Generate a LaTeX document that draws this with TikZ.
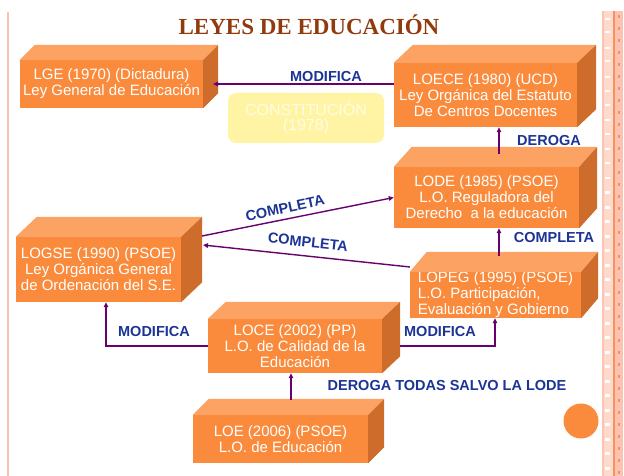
\documentclass[tikz,border=0pt]{standalone}
\usepackage{fontspec}
\setmainfont{Liberation Sans}
\newfontfamily\titlefont{Liberation Serif}
\usetikzlibrary{arrows.meta,calc}
\definecolor{frontc}{RGB}{251,139,60}
\definecolor{topc}{RGB}{252,163,100}
\definecolor{sidec}{RGB}{206,108,44}
\definecolor{arrc}{RGB}{104,0,110}
\definecolor{lblc}{RGB}{28,52,150}
\definecolor{titlec}{RGB}{145,58,14}
\definecolor{pinkc}{RGB}{251,196,178}
\definecolor{pinkl}{RGB}{253,218,204}
\definecolor{bandorange}{RGB}{247,146,96}
\definecolor{yelc}{RGB}{255,244,164}
\definecolor{yeltext}{RGB}{255,252,228}
\newcommand\cubefaces[3]{%
  \fill[topc] (#1.north west) -- ++(#2,-#3) -- ($(#1.north east)+(#2,-#3)$) -- (#1.north east) -- cycle;
  \fill[sidec] (#1.north east) -- ++(#2,-#3) -- ($(#1.south east)+(#2,-#3)$) -- (#1.south east) -- cycle;
}
\begin{document}
\begin{tikzpicture}[x=1pt,y=-1pt,
  front/.style={fill=frontc, text=white, font=\fontsize{15}{16}\selectfont, align=center, inner sep=0pt},
  arr/.style={draw=arrc, line width=1.4pt, -{Triangle[length=5pt,width=4.5pt]}},
  lbl/.style={text=lblc, font=\fontsize{14.5}{16}\selectfont\bfseries, inner sep=0pt}]
\useasboundingbox[fill=white] (0,0) rectangle (624,476);

% page decorations
\draw[pinkc, line width=2.2pt] (8,12) -- (8,476);
\fill[pinkc] (602,11) rectangle (623,476);
\fill[pinkl] (604,11) rectangle (613,476);
\foreach \yy in {18,31,47,60,76,90,104,119,133,148,162,177,191,206,220,235,249,264,278,293,307,322,336,351,365,380,394,409,423,438,452,467}
  \fill[white] (604.5,\yy) rectangle (610,\yy+2.5);
\draw[bandorange, line width=1.3pt] (614,11) -- (614,476);
\foreach \yy in {15,27,39,51,63,75,87,99,111,123,135,147,159,171,183,195,207,219,231,243,255,267,279,291,303,315,327,339,351,363,375,387,399,411,423,435,447,459,471}
  \fill[bandorange] (617.5,\yy) rectangle (619.5,\yy+3);

% title
\node[anchor=base, inner sep=0pt, text=titlec, font=\titlefont\bfseries\fontsize{23}{26}\selectfont] (title) at (309,35) {LEYES DE EDUCACIÓN};

% constitution
\node[fill=yelc, rounded corners=8pt, minimum width=156pt, minimum height=50pt, inner sep=0pt,
      text=yeltext, align=center, font=\fontsize{16}{15}\selectfont] (const) at (306,118) {CONSTITUCIÓN\\(1978)};

% boxes
\node[front, minimum width=183pt, minimum height=48pt] (lge) at (111.5,84) {LGE (1970) (Dictadura)\\Ley General de Educación};
\cubefaces{lge}{15}{15}
\node[front, minimum width=183pt, minimum height=64pt] (loece) at (485.5,95) {LOECE (1980) (UCD)\\Ley Orgánica del Estatuto\\De Centros Docentes};
\cubefaces{loece}{19}{18}
\node[front, minimum width=185pt, minimum height=61pt] (lode) at (486.5,197.5) {LODE (1985) (PSOE)\\L.O. Reguladora del\\Derecho\ \ a la educación};
\cubefaces{lode}{18}{20}
\node[front, minimum width=165pt, minimum height=65pt] (logse) at (98.5,269.5) {LOGSE (1990) (PSOE)\\Ley Orgánica General\\de Ordenación del S.E.};
\cubefaces{logse}{21}{20}
\node[front, align=left, minimum width=171pt, minimum height=46pt] (lopeg) at (495.5,295) {LOPEG (1995) (PSOE)\\L.O. Participación,\\ Evaluación y Gobierno};
\cubefaces{lopeg}{17}{20}
\node[front, minimum width=174pt, minimum height=54pt] (loce) at (295,346) {LOCE (2002) (PP)\\L.O. de Calidad de la\\Educación};
\cubefaces{loce}{18}{17}
\node[front, minimum width=175pt, minimum height=48pt] (loe) at (280.5,439) {LOE (2006) (PSOE)\\L.O. de Educación};
\cubefaces{loe}{16}{16}

% decorative circle
\fill[frontc] (581,421) circle (17.5pt);

% connector points
\coordinate (lgeside) at (213,84);
\coordinate (d1) at (499,154);
\coordinate (logseTR) at (202,236);
\coordinate (lopegL) at (410,267);
\coordinate (logseR) at (203,245);
\coordinate (c3) at (499,256);
\coordinate (ml) at (106,346);
\coordinate (locR) at (400,346);
\coordinate (mr) at (495,346);
\coordinate (d2) at (291,400);

% connectors
\draw[arr] (lgeside -| loece.west) -- (lgeside);
\draw[arr] (d1) -- (d1 |- loece.south);
\draw[arr] (logseTR) -- (lode.west);
\draw[arr] (lopegL) -- (logseR);
\draw[arr] (c3) -- (c3 |- lode.south);
\draw[arr] (loce.west) -- (ml) -- (ml |- logse.south);
\draw[arr] (locR) -- (mr) -- (mr |- lopeg.south);
\draw[arr] (d2) -- (d2 |- loce.south);

% labels
\node[lbl] (m1) at (326,77) {MODIFICA};
\node[lbl] (dr) at (549,141) {DEROGA};
\node[lbl, rotate=12] (cl1) at (285,208) {COMPLETA};
\node[lbl, rotate=-6] (cl2) at (308,242) {COMPLETA};
\node[lbl] (cl3) at (554,238) {COMPLETA};
\node[lbl] (m2) at (154,332) {MODIFICA};
\node[lbl] (m3) at (440,332) {MODIFICA};
\node[lbl] (dt) at (447,386) {DEROGA TODAS SALVO LA LODE};
\end{tikzpicture}
\end{document}
